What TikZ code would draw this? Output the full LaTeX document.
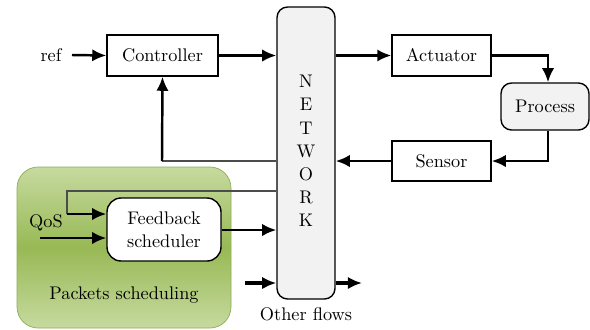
\documentclass[tikz,border=0pt]{standalone}
\usetikzlibrary{arrows.meta}
\definecolor{netgray}{HTML}{F2F2F2}
\definecolor{grnlight}{HTML}{C6DA9F}
\definecolor{grndark}{HTML}{98B955}
\definecolor{grnline}{HTML}{8DAE52}
\begin{document}
\begin{tikzpicture}[x=0.02cm,y=-0.02cm,
    font=\fontsize{10.4}{13.2}\selectfont,
    block/.style={draw,thick,inner sep=0pt},
    size/.style 2 args={minimum width={#1*0.02cm},minimum height={#2*0.02cm}},
    flow/.style={-{Latex[length=8pt,width=7pt]},line width=1.4pt},
    thin flow/.style={line width=0.8pt,black!70}]
  \useasboundingbox (0,0) rectangle (590,329);
  \draw[grnline,rounded corners=12,top color=grnlight,bottom color=grnlight,middle color=grndark]
    (17,167) rectangle (231,328);
  \node[block,rounded corners=6,fill=netgray,size={58}{292}] (net) at (306,153) {};
  \node[align=center] (nettext) at (306,151) {N\\E\\T\\W\\O\\R\\K};
  \node at (306,314) (other) {Other flows};
  \node (ref) at (51,55) {ref};
  \node[block,size={111}{41}] (ctrl) at (162.5,55.5) {Controller};
  \node[block,size={99}{41}] (act) at (441.5,55.5) {Actuator};
  \node[block,rounded corners=6,fill=netgray,size={88}{47}] (proc) at (545,106.5) {Process};
  \node[block,size={99}{40}] (sens) at (441.5,161) {Sensor};
  \node[block,rounded corners=8,fill=white,align=center,size={114}{63}] (sched) at (164,229.5) {Feedback\\scheduler};
  \node (qos) at (46,223) {QoS};
  \node (pack) at (124,295) {Packets scheduling};
  \coordinate (qin) at (40,238);
  \coordinate (oin) at (245,283);
  \coordinate (oout) at (362,283);
  \draw[flow] (72,55) -- (ctrl.west);
  \draw[flow] (ctrl.east) -- (ctrl.east -| net.west);
  \draw[flow] (act.west -| net.east) -- (act.west);
  \draw[flow] (act.east) -| (proc.north -| 548,0);
  \draw[flow] (proc.south -| 548,0) |- (sens.east);
  \draw[flow] (sens.west) -- (sens.west -| net.east);
  \draw[thin flow] (sens.west -| net.west) -- (162,161);
  \draw[flow] (162,161) -- (ctrl.south);
  \draw[thin flow] (net.west |- 0,191) -- (67,191) -- (67,214);
  \draw[flow] (67,214) -- (sched.west |- 0,214);
  \draw[flow] (qin) -- (sched.west |- qin);
  \draw[flow] (sched.east |- 0,230) -- (net.west |- 0,230);
  \draw[flow,line width=2pt] (oin) -- (net.west |- oin);
  \draw[flow,line width=2pt] (net.east |- oout) -- (oout);
\end{tikzpicture}
\end{document}
